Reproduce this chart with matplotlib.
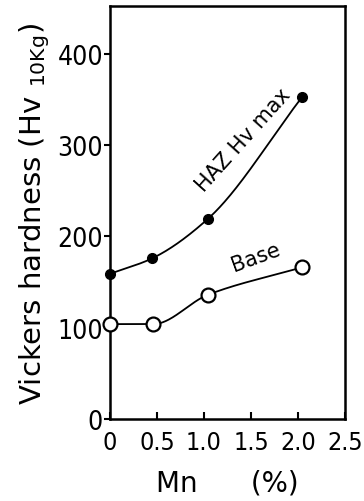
import numpy as np
import matplotlib.pyplot as plt

# Mn content (%) and Vickers hardness
mn_haz = [0.0, 0.45, 1.04, 2.04]
hv_haz = [159, 176, 219, 352]
mn_base = [0.0, 0.46, 1.04, 2.04]
hv_base = [104, 104, 136, 166]

xticks = [0, 0.5, 1.0, 1.5, 2.0, 2.5]
xtick_labels = ['0', '0.5', '1.0', '1.5', '2.0', '2.5']
yticks = [0, 100, 200, 300, 400]


def smooth(x, y, n=200):
    # monotone cubic (Fritsch-Carlson) through the points, just for drawing
    x = np.asarray(x, float)
    y = np.asarray(y, float)
    h = np.diff(x)
    d = np.diff(y) / h
    m = np.zeros_like(y)
    m[0], m[-1] = d[0], d[-1]
    for i in range(1, len(x) - 1):
        if d[i - 1] * d[i] <= 0:
            m[i] = 0
        else:
            w1 = 2 * h[i] + h[i - 1]
            w2 = h[i] + 2 * h[i - 1]
            m[i] = (w1 + w2) / (w1 / d[i - 1] + w2 / d[i])
    xs = np.linspace(x[0], x[-1], n)
    k = np.clip(np.searchsorted(x, xs) - 1, 0, len(x) - 2)
    t = (xs - x[k]) / h[k]
    h00 = 2 * t**3 - 3 * t**2 + 1
    h10 = t**3 - 2 * t**2 + t
    h01 = -2 * t**3 + 3 * t**2
    h11 = t**3 - t**2
    ys = h00 * y[k] + h10 * h[k] * m[k] + h01 * y[k + 1] + h11 * h[k] * m[k + 1]
    return xs, ys


plt.rcParams['font.family'] = ['DejaVu Sans']
plt.rcParams['font.stretch'] = 'condensed'

fig = plt.figure(figsize=(3.64, 5.02), dpi=100)
ax = fig.add_axes([0.302, 0.163, 0.646, 0.823])

xs, ys = smooth(mn_haz, hv_haz)
ax.plot(xs, ys, color='black', lw=1.3, zorder=2)
ax.plot(mn_haz, hv_haz, 'o', color='black', ms=7, zorder=3, clip_on=False)

xs, ys = smooth(mn_base, hv_base)
ax.plot(xs, ys, color='black', lw=1.3, zorder=2)
ax.plot(mn_base, hv_base, 'o', mfc='white', mec='black', mew=1.6, ms=10,
        zorder=3, clip_on=False)

ax.text(1.42, 306, 'HAZ Hv max', rotation=48, fontsize=15,
        ha='center', va='center', fontstretch='normal')
ax.text(1.55, 178, 'Base', rotation=20, fontsize=15,
        ha='center', va='center', fontstretch='normal')

ax.set_xlim(0, 2.5)
ax.set_ylim(0, 452)
ax.set_xticks(xticks)
ax.set_xticklabels(xtick_labels)
ax.set_yticks(yticks)

for s in ax.spines.values():
    s.set_linewidth(1.8)
ax.tick_params(axis='x', direction='in', length=5, width=1.5,
               labelsize=18, pad=8)
ax.tick_params(axis='y', direction='out', length=4, width=1.5,
               labelsize=19, pad=1)

ax.set_ylabel(r'Vickers hardness (Hv $\mathregular{_{10Kg}}$)', fontsize=21,
              labelpad=4, fontstretch='normal')
ax.set_xlabel('Mn      (%)', fontsize=20, labelpad=10, fontstretch='normal')

fig.savefig('out.png', dpi=100)
